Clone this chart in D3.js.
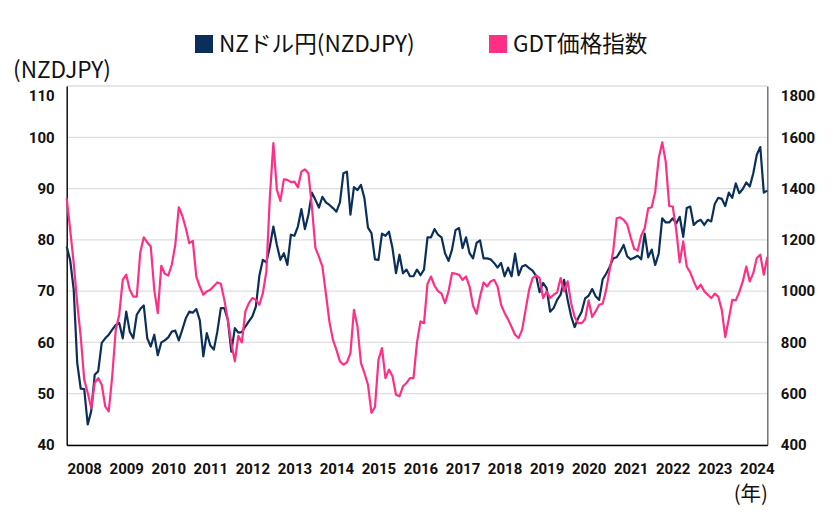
<!DOCTYPE html>
<html>
<head>
<meta charset="utf-8">
<script src="https://cdn.jsdelivr.net/npm/d3@7"></script>
<style>
  html, body { margin: 0; padding: 0; background: #fff; }
  svg { display: block; }
</style>
</head>
<body>
<svg id="chart" width="840" height="531"></svg>
<script>
// ---- data (monthly) ----
const nzdjpy = [
  78.7, 76, 70.3, 56, 51, 50.9, 44, 46.6, 53.7, 54.4,
  59.9, 60.8, 61.5, 62.5, 63.4, 63.8, 60.8, 66, 62.1, 60.8,
  65.4, 66.5, 67.2, 60.8, 59.2, 61.5, 57.5, 60, 60.4, 61,
  62.1, 62.3, 60.4, 62.5, 64.7, 66, 65.8, 66.5, 64.3, 57.3,
  61.8, 59.4, 58.6, 62.1, 66.7, 66.7, 64.4, 58.2, 62.8, 61.9,
  62, 63.1, 64.1, 65.1, 67, 73, 76.1, 75.6, 78.7, 82.6,
  79, 76.1, 77.4, 75.1, 81, 80.8, 82.6, 86, 82.1, 84.9,
  89.2, 87.8, 86.3, 88.4, 87.3, 86.8, 86.2, 85.5, 87.3, 93,
  93.3, 84.9, 90.3, 89.7, 90.7, 88.1, 82.4, 81.3, 76.2, 76.1,
  81.2, 80.8, 81.6, 78.4, 73.5, 77.1, 73.5, 74.2, 72.9, 72.9,
  74.2, 73.1, 74.2, 80.5, 80.5, 82.1, 81, 80.5, 77.4, 75.9,
  78.1, 81.9, 82.3, 78.4, 80.5, 77.4, 76.4, 79.4, 79.9, 76.4,
  76.4, 76.2, 75.5, 74.6, 75.5, 72.9, 74.6, 72.9, 77.3, 73.1,
  74.8, 75.1, 74.5, 74, 73, 69.8, 71.6, 70.6, 66, 66.7,
  68.3, 69.3, 72.2, 68.3, 65.1, 63, 64.7, 66, 68.6, 69.1,
  70.4, 69, 68.3, 72.3, 73.4, 74.7, 76.4, 76.6, 77.7, 79,
  76.8, 76.2, 76.5, 76.9, 76.2, 81.2, 76.6, 78.1, 75.1, 77.3,
  84.2, 83.4, 83.4, 84.2, 83.2, 84.5, 80.6, 86.2, 86.5, 82.9,
  83.6, 83.9, 82.9, 83.9, 83.6, 87, 88.2, 88, 86.6, 89.2,
  88.2, 91, 89.1, 89.9, 91.2, 90.4, 93, 96.6, 98.1, 89.2,
  89.6
];
const gdt = [
  1362, 1239, 1109, 953, 823, 655, 603, 544, 642, 661,
  635, 551, 531, 668, 849, 908, 1044, 1064, 1005, 979,
  979, 1150, 1210, 1190, 1174, 1005, 914, 1099, 1068, 1061,
  1103, 1181, 1327, 1294, 1245, 1187, 1196, 1057, 1018, 986,
  999, 1005, 1020, 1034, 1029, 966, 888, 797, 726, 826,
  800, 921, 953, 973, 966, 947, 992, 1077, 1369, 1577,
  1395, 1352, 1436, 1434, 1425, 1427, 1405, 1466, 1475, 1460,
  1330, 1168, 1135, 1096, 990, 880, 810, 771, 726, 713,
  722, 758, 927, 862, 719, 681, 635, 525, 548, 732,
  778, 661, 694, 668, 596, 590, 629, 642, 661, 661,
  800, 882, 875, 1029, 1057, 1021, 1000, 990, 953, 999,
  1070, 1068, 1064, 1044, 1057, 1018, 943, 912, 979, 1034,
  1018, 1038, 1044, 1018, 947, 915, 890, 860, 830, 817,
  849, 927, 1005, 1051, 1061, 1051, 973, 999, 973, 986,
  995, 1051, 999, 1038, 953, 899, 875, 875, 891, 964,
  899, 921, 947, 951, 1005, 1083, 1155, 1284, 1288, 1278,
  1260, 1210, 1165, 1158, 1216, 1245, 1323, 1327, 1388, 1518,
  1580, 1505, 1332, 1330, 1239, 1112, 1194, 1096, 1073, 1038,
  1008, 1025, 1000, 986, 973, 990, 979, 927, 821, 891,
  966, 964, 996, 1038, 1096, 1038, 1070, 1129, 1142, 1064,
  1133
];
const years = [2008, 2009, 2010, 2011, 2012, 2013, 2014, 2015, 2016,
               2017, 2018, 2019, 2020, 2021, 2022, 2023, 2024];
const leftTicks = [40, 50, 60, 70, 80, 90, 100, 110];
const rightTicks = [400, 600, 800, 1000, 1200, 1400, 1600, 1800];
const seriesNames = ["NZドル円(NZDJPY)", "GDT価格指数"];
const colors = ["#0b2f5b", "#ff2f86"];

// ---- layout ----
const svg = d3.select("#chart");
const L = 66.7, R = 767.3, T = 86, B = 445;
const x = d3.scaleLinear().domain([0, nzdjpy.length - 1]).range([L, R]);
const yL = d3.scaleLinear().domain([40, 110]).range([B, T]);
const yR = d3.scaleLinear().domain([400, 1800]).range([B, T]);
const numFont = "Roboto, 'DejaVu Sans', sans-serif";
const jpFont = "'Noto Sans CJK JP', 'Noto Sans', sans-serif";

// gridlines
svg.append("g").selectAll("line").data(leftTicks).join("line")
  .attr("x1", L).attr("x2", R)
  .attr("y1", d => yL(d)).attr("y2", d => yL(d))
  .attr("stroke", "#dedede").attr("stroke-width", 1.3);

// left axis
const gl = svg.append("g").attr("transform", `translate(${L},0)`)
  .call(d3.axisLeft(yL).tickValues(leftTicks).tickFormat(d3.format("d"))
    .tickSize(0).tickPadding(12));
gl.select(".domain").attr("stroke", "#000").attr("stroke-width", 1.4);
gl.selectAll("text").attr("font-family", numFont).attr("font-weight", 700)
  .attr("font-size", 15).attr("fill", "#111")
  .attr("transform", d => d === 110 ? "translate(0,10)" : null);

// right axis
const gr = svg.append("g").attr("transform", `translate(${R},0)`)
  .call(d3.axisRight(yR).tickValues(rightTicks).tickFormat(d3.format("d"))
    .tickSize(0).tickPadding(13.5));
gr.select(".domain").attr("stroke", "#666").attr("stroke-width", 1.4);
gr.selectAll("text").attr("font-family", numFont).attr("font-weight", 700)
  .attr("font-size", 15).attr("fill", "#111")
  .attr("transform", d => d === 1800 ? "translate(0,10)" : null);

// bottom axis with year labels at January of each year
const gb = svg.append("g").attr("transform", `translate(0,${B})`)
  .call(d3.axisBottom(x)
    .tickValues(years.map(yv => (yv - 2008) * 12))
    .tickFormat((d, i) => String(years[i]))
    .tickSize(0).tickPadding(18.5));
gb.select(".domain").attr("stroke", "#000").attr("stroke-width", 1.4);
gb.selectAll("text").attr("font-family", numFont).attr("font-weight", 700)
  .attr("font-size", 15).attr("fill", "#111").attr("text-anchor", "start")
  .attr("dx", 0.3);

// lines
const lineL = d3.line().x((d, i) => x(i)).y(d => yL(d));
const lineR = d3.line().x((d, i) => x(i)).y(d => yR(d));
svg.append("path").datum(nzdjpy).attr("d", lineL)
  .attr("fill", "none").attr("stroke", colors[0]).attr("stroke-width", 2.2)
  .attr("stroke-linejoin", "round");
svg.append("path").datum(gdt).attr("d", lineR)
  .attr("fill", "none").attr("stroke", colors[1]).attr("stroke-width", 2.2)
  .attr("stroke-linejoin", "round");

// legend
const legendX = [195, 489];
const lg = svg.append("g").selectAll("g").data(seriesNames).join("g")
  .attr("transform", (d, i) => `translate(${legendX[i]},0)`);
lg.append("rect").attr("x", 0).attr("y", 35).attr("width", 18).attr("height", 18)
  .attr("fill", (d, i) => colors[i]);
lg.append("text").attr("x", 24).attr("y", 44).attr("dy", "0.35em")
  .attr("font-family", jpFont).attr("font-size", 22.6).attr("fill", "#111")
  .text(d => d);

// axis titles
svg.append("text").attr("x", 13).attr("y", 70).attr("dy", "0.35em")
  .attr("font-family", jpFont).attr("font-size", 22.6).attr("fill", "#111")
  .text("(NZDJPY)");
svg.append("text").attr("x", 768).attr("y", 494).attr("dy", "0.35em")
  .attr("text-anchor", "end")
  .attr("font-family", jpFont).attr("font-size", 20.5).attr("fill", "#111")
  .text("(年)");
</script>
</body>
</html>
